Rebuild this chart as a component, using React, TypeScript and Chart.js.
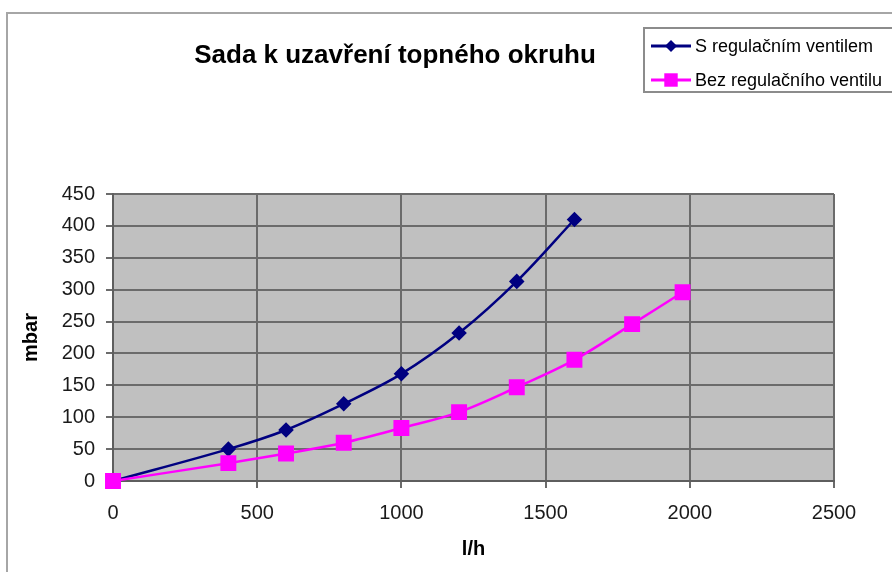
import React, { useEffect, useRef } from "react";
import { Chart, registerables } from "chart.js";

Chart.register(...registerables);

const TITLE = "Sada k uzavření topného okruhu";
const X_TITLE = "l/h";
const Y_TITLE = "mbar";
const SERIES_NAMES = ["S regulačním ventilem", "Bez regulačního ventilu"];

const flowWith = [0, 400, 600, 800, 1000, 1200, 1400, 1600];
const mbarWith = [0, 50, 80, 121, 168, 232, 313, 410];

const flowWithout = [0, 400, 600, 800, 1000, 1200, 1400, 1600, 1800, 1975];
const mbarWithout = [0, 28, 43, 60, 83, 108, 147, 190, 246, 296];

const X_MIN = 0;
const X_MAX = 2500;
const X_STEP = 500;
const Y_MIN = 0;
const Y_MAX = 450;
const Y_STEP = 50;

const NAVY = "#000080";
const MAGENTA = "#ff00ff";
const FONT = "Arial, 'Liberation Sans', sans-serif";

function drawMarker(ctx: CanvasRenderingContext2D, style: string, x: number, y: number, r: number, color: string) {
  ctx.save();
  ctx.fillStyle = color;
  ctx.beginPath();
  if (style === "rectRot") {
    ctx.moveTo(x, y - r);
    ctx.lineTo(x + r, y);
    ctx.lineTo(x, y + r);
    ctx.lineTo(x - r, y);
    ctx.closePath();
  } else {
    const s = r * Math.SQRT1_2;
    ctx.rect(x - s, y - s, 2 * s, 2 * s);
  }
  ctx.fill();
  ctx.restore();
}

const decorPlugin = {
  id: "decor",
  afterDraw(chart: any) {
    const ctx: CanvasRenderingContext2D = chart.ctx;
    ctx.save();
    // outer chart border
    ctx.strokeStyle = "#a6a6a6";
    ctx.lineWidth = 2;
    ctx.beginPath();
    ctx.moveTo(7, 575);
    ctx.lineTo(7, 13);
    ctx.lineTo(895, 13);
    ctx.stroke();

    // title
    ctx.fillStyle = "#000";
    ctx.font = `bold 26px ${FONT}`;
    ctx.textAlign = "center";
    ctx.textBaseline = "alphabetic";
    ctx.fillText(TITLE, 395, 63);

    // legend
    ctx.fillStyle = "#fff";
    ctx.fillRect(644, 28, 260, 64);
    ctx.strokeStyle = "#8c8c8c";
    ctx.lineWidth = 2;
    ctx.strokeRect(644, 28, 260, 64);
    ctx.font = `18px ${FONT}`;
    ctx.textAlign = "left";
    ctx.textBaseline = "middle";
    chart.data.datasets.forEach((ds: any, i: number) => {
      const y = 46 + i * 34;
      ctx.strokeStyle = ds.borderColor;
      ctx.lineWidth = 3;
      ctx.beginPath();
      ctx.moveTo(651, y);
      ctx.lineTo(691, y);
      ctx.stroke();
      drawMarker(ctx, ds.pointStyle, 671, y, ds.pointRadius, ds.borderColor);
      ctx.fillStyle = "#000";
      ctx.fillText(ds.label, 695, y + 1);
    });
    ctx.restore();
  },
};

export default function App() {
  const ref = useRef<HTMLCanvasElement | null>(null);
  useEffect(() => {
    if (!ref.current) return;
    const chart = new Chart(ref.current, {
      type: "line",
      data: {
        datasets: [
          {
            label: SERIES_NAMES[0],
            data: flowWith.map((x, i) => ({ x, y: mbarWith[i] })),
            borderColor: NAVY,
            backgroundColor: NAVY,
            borderWidth: 2.5,
            pointStyle: "rectRot",
            pointRadius: 6,
            pointHoverRadius: 6,
            tension: 0.35,
            clip: false,
            order: 1,
          },
          {
            label: SERIES_NAMES[1],
            data: flowWithout.map((x, i) => ({ x, y: mbarWithout[i] })),
            borderColor: MAGENTA,
            backgroundColor: MAGENTA,
            borderWidth: 2.5,
            pointStyle: "rect",
            pointRadius: 9.5,
            pointHoverRadius: 9.5,
            tension: 0.35,
            clip: false,
            order: 0,
          },
        ],
      },
      options: {
        responsive: false,
        animation: false,
        layout: { padding: { top: 194, right: 58, left: 0, bottom: 0 } },
        plugins: {
          legend: { display: false },
          title: { display: false },
          tooltip: { enabled: false },
        },
        scales: {
          x: {
            type: "linear",
            min: X_MIN,
            max: X_MAX,
            ticks: {
              stepSize: X_STEP,
              color: "#1a1a1a",
              font: { family: FONT, size: 20 },
              padding: 13,
              maxRotation: 0,
              callback: (v: any) => String(v),
            },
            grid: { color: "#6b6b6b", lineWidth: 2, tickLength: 7 },
            border: { display: true, color: "#5e5e5e", width: 2 },
            title: { display: true, text: X_TITLE, color: "#000", font: { family: FONT, size: 20, weight: "bold" }, padding: { top: 0, bottom: 11 } },
            afterFit: (s: any) => { s.height = 91; },
          },
          y: {
            type: "linear",
            min: Y_MIN,
            max: Y_MAX,
            ticks: {
              stepSize: Y_STEP,
              color: "#1a1a1a",
              font: { family: FONT, size: 20 },
              padding: 11,
              callback: (v: any) => String(v),
            },
            grid: { color: "#6b6b6b", lineWidth: 2, tickLength: 7 },
            border: { display: true, color: "#5e5e5e", width: 2 },
            title: { display: true, text: Y_TITLE, color: "#000", font: { family: FONT, size: 20, weight: "bold" }, padding: { top: 19, bottom: 0 } },
            afterFit: (s: any) => { s.width = 113; },
          },
        },
      },
      plugins: [
        {
          id: "plotBg",
          beforeDraw(chart: any) {
            const { ctx, chartArea } = chart;
            ctx.save();
            ctx.fillStyle = "#c0c0c0";
            ctx.fillRect(chartArea.left, chartArea.top, chartArea.right - chartArea.left, chartArea.bottom - chartArea.top);
            ctx.restore();
          },
        },
        decorPlugin,
      ],
    });
    return () => chart.destroy();
  }, []);
  return (
    <div style={{ position: "absolute", left: 0, top: 0, width: 892, height: 572, background: "#fff" }}>
      <canvas ref={ref} width={892} height={572} />
    </div>
  );
}
